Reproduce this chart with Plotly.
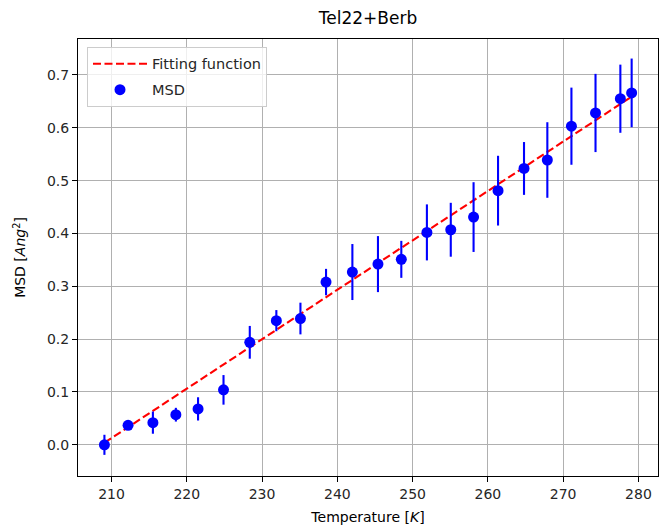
import plotly.graph_objects as go

# Measured mean-square displacement vs temperature
temperature = [209.06, 212.2, 215.5, 218.55, 221.5, 224.88, 228.37, 231.9, 235.1, 238.5,
               242.0, 245.4, 248.5, 251.9, 255.07, 258.1, 261.35, 264.8, 267.9, 271.1,
               274.3, 277.6, 279.1]
msd = [0.000, 0.037, 0.042, 0.057, 0.068, 0.104, 0.194, 0.235, 0.239, 0.308,
       0.327, 0.342, 0.351, 0.402, 0.407, 0.431, 0.481, 0.523, 0.539, 0.603,
       0.628, 0.655, 0.666]
msd_err = [0.019, 0.005, 0.021, 0.013, 0.022, 0.028, 0.031, 0.020, 0.030, 0.025,
           0.053, 0.053, 0.035, 0.053, 0.051, 0.066, 0.066, 0.050, 0.0715, 0.073,
           0.074, 0.0645, 0.065]

# Linear fit, evaluated at the ends of the temperature range
fit_temperature = [209.06, 279.1]
fit_msd = [0.004, 0.659]

x_ticks = [210, 220, 230, 240, 250, 260, 270, 280]
y_ticks = [0.0, 0.1, 0.2, 0.3, 0.4, 0.5, 0.6, 0.7]

font = "DejaVu Sans"

fig = go.Figure()

fig.add_trace(go.Scatter(
    x=fit_temperature, y=fit_msd, mode="lines", name="Fitting function",
    line=dict(color="red", width=2.1, dash="8px,3.5px"),
    legendgroup="fit",
))

fig.add_trace(go.Scatter(
    x=temperature, y=msd, mode="markers", name="MSD",
    marker=dict(color="blue", size=11, symbol="circle"),
    error_y=dict(type="data", array=msd_err, visible=True, color="blue",
                 thickness=2.1, width=0),
    legendgroup="msd",
))

axis_common = dict(
    showgrid=True, gridcolor="#b0b0b0", gridwidth=1.1,
    showline=True, linecolor="black", linewidth=1.1, mirror=True,
    ticks="outside", ticklen=5, tickwidth=1.1, tickcolor="black",
    zeroline=False,
    tickfont=dict(family=font, size=14, color="#262626"),
)

fig.update_layout(
    width=660, height=529,
    margin=dict(l=78, r=2, t=39, b=53),
    paper_bgcolor="white", plot_bgcolor="white",
    font=dict(family=font, size=14, color="black"),
    title=dict(text="Tel22+Berb", x=(78 + 658) / 2 / 660, xanchor="center",
               y=1 - 18 / 529, yanchor="middle", yref="container",
               font=dict(family=font, size=17, color="black")),
    xaxis=dict(range=[205.55, 282.6], tickvals=x_ticks,
               ticktext=[str(v) for v in x_ticks],
               title=dict(text="Temperature [<i>K</i>]", standoff=11,
                          font=dict(family=font, size=14)),
               **axis_common),
    yaxis=dict(range=[-0.059, 0.768], tickvals=y_ticks,
               ticktext=[f"{v:.1f}" for v in y_ticks],
               title=dict(text="MSD [<i>Ang</i><sup>2</sup>]", standoff=17,
                          font=dict(family=font, size=14)),
               **axis_common),
    legend=dict(x=0.0155, y=0.982, xanchor="left", yanchor="top",
                bgcolor="rgba(255,255,255,0.8)", bordercolor="#cccccc",
                borderwidth=1, font=dict(family=font, size=14.5, color="#262626"),
                traceorder="grouped", tracegroupgap=4, itemwidth=54),
    showlegend=True,
)

fig.write_html("out.html")
